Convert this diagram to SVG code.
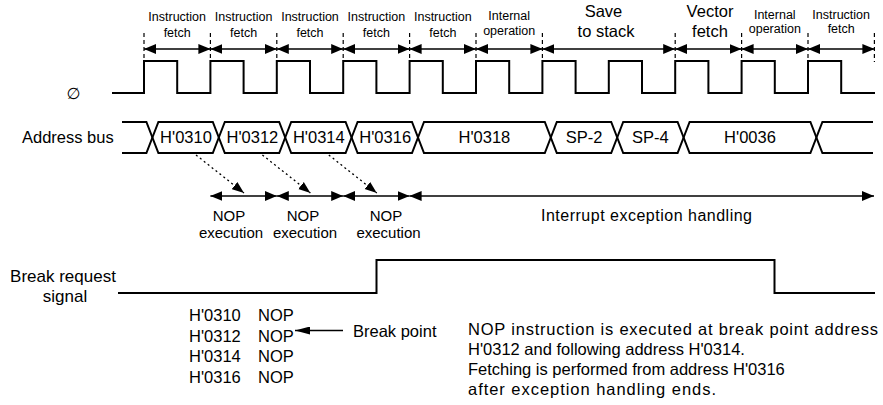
<svg xmlns="http://www.w3.org/2000/svg" width="883" height="405" viewBox="0 0 883 405">
<style>
text{font-family:"Liberation Sans",Arial,"DejaVu Sans",sans-serif;fill:#000}
.s{font-size:12.5px;text-anchor:middle}
.m{font-size:16.5px;text-anchor:middle}
.b{font-size:16.5px}
.n{font-size:15px;text-anchor:middle}
.sig{fill:none;stroke:#000;stroke-width:2}
.bus{fill:none;stroke:#000;stroke-width:2;stroke-linejoin:miter}
.tick{stroke:#000;stroke-width:1.2;stroke-dasharray:4 3}
.arr{stroke:#000;stroke-width:1.3;fill:none;marker-start:url(#ah);marker-end:url(#ah)}
.dot{stroke:#000;stroke-width:1.3;stroke-dasharray:2 3;fill:none;marker-end:url(#ah2)}
</style>
<defs>
<marker id="ah" markerUnits="userSpaceOnUse" markerWidth="12" markerHeight="10" refX="12" refY="5" orient="auto-start-reverse"><path d="M0,0 L12,5 L0,10 z" fill="#000"/></marker>
<marker id="ah2" markerUnits="userSpaceOnUse" markerWidth="12" markerHeight="10" refX="12" refY="5" orient="auto"><path d="M0,0.5 L12,5 L0,9.5 z" fill="#000"/></marker>
<marker id="ah3" markerUnits="userSpaceOnUse" markerWidth="15" markerHeight="8" refX="15" refY="4" orient="auto"><path d="M0,0 L15,4 L0,8 z" fill="#000"/></marker>
</defs>

<g id="phase-labels">
<text class="s" x="177.2" y="20.5">Instruction</text><text class="s" x="177.2" y="37">fetch</text>
<text class="s" x="243.6" y="20.5">Instruction</text><text class="s" x="243.6" y="37">fetch</text>
<text class="s" x="310" y="20.5">Instruction</text><text class="s" x="310" y="37">fetch</text>
<text class="s" x="376.4" y="20.5">Instruction</text><text class="s" x="376.4" y="37">fetch</text>
<text class="s" x="442.8" y="20.5">Instruction</text><text class="s" x="442.8" y="37">fetch</text>
<text class="s" x="509.2" y="19.5">Internal</text><text class="s" x="509.2" y="35">operation</text>
<text class="m" x="603.5" y="17">Save</text><text class="m" x="606" y="37">to stack</text>
<text class="m" x="710" y="17">Vector</text><text class="m" x="710" y="37">fetch</text>
<text class="s" x="774.8" y="19">Internal</text><text class="s" x="774.8" y="32.5">operation</text>
<text class="s" x="841.2" y="19">Instruction</text><text class="s" x="841.2" y="32.5">fetch</text>
</g>

<g id="phase-ticks">
<line class="tick" x1="144" y1="33" x2="144" y2="58"/>
<line class="tick" x1="210.4" y1="33" x2="210.4" y2="58"/>
<line class="tick" x1="276.8" y1="33" x2="276.8" y2="58"/>
<line class="tick" x1="343.2" y1="33" x2="343.2" y2="58"/>
<line class="tick" x1="409.6" y1="33" x2="409.6" y2="58"/>
<line class="tick" x1="476" y1="33" x2="476" y2="58"/>
<line class="tick" x1="542.4" y1="33" x2="542.4" y2="58"/>
<line class="tick" x1="675.2" y1="33" x2="675.2" y2="58"/>
<line class="tick" x1="741.6" y1="33" x2="741.6" y2="58"/>
<line class="tick" x1="808" y1="33" x2="808" y2="58"/>
<line class="tick" x1="874.4" y1="33" x2="874.4" y2="62"/>
</g>

<g id="connectors">
<line class="arr" x1="144" y1="49" x2="210.4" y2="49"/>
<line class="arr" x1="210.4" y1="49" x2="276.8" y2="49"/>
<line class="arr" x1="276.8" y1="49" x2="343.2" y2="49"/>
<line class="arr" x1="343.2" y1="49" x2="409.6" y2="49"/>
<line class="arr" x1="409.6" y1="49" x2="476" y2="49"/>
<line class="arr" x1="476" y1="49" x2="542.4" y2="49"/>
<line class="arr" x1="542.4" y1="49" x2="675.2" y2="49"/>
<line class="arr" x1="675.2" y1="49" x2="741.6" y2="49"/>
<line class="arr" x1="741.6" y1="49" x2="808" y2="49"/>
<line class="arr" x1="808" y1="49" x2="874.4" y2="49"/>

<line class="arr" x1="210.4" y1="196" x2="276.8" y2="196"/>
<line class="arr" x1="276.8" y1="196" x2="343.2" y2="196"/>
<line class="arr" x1="343.2" y1="196" x2="409.6" y2="196"/>
<line class="arr" x1="409.6" y1="196" x2="874" y2="196"/>

<line class="dot" x1="196" y1="155" x2="244" y2="193"/>
<line class="dot" x1="262.4" y1="155" x2="310.4" y2="193"/>
<line class="dot" x1="328.8" y1="155" x2="376.8" y2="193"/>

<line x1="343" y1="330.5" x2="295" y2="330.5" stroke="#000" stroke-width="1.3" marker-end="url(#ah3)"/>
</g>

<g id="clock">
<text x="73.5" y="99" style="font-size:16px;text-anchor:middle;font-family:'DejaVu Sans',sans-serif">∅</text>
<path class="sig" d="M112,93 H144 V61 H177.2 V93 H210.4 V61 H243.6 V93 H276.8 V61 H310 V93 H343.2 V61 H376.4 V93 H409.6 V61 H442.8 V93 H476 V61 H509.2 V93 H542.4 V61 H575.6 V93 H608.8 V61 H642 V93 H675.2 V61 H708.4 V93 H741.6 V61 H774.8 V93 H808 V61 H841.2 V93 H875"/>
</g>

<g id="address-bus">
<text class="b" x="22" y="143">Address bus</text>
<path class="bus" d="M122,122 H146.4 L152.4,137.5 L146.4,153 H122"/>
<path class="bus" d="M152.4,137.5 L158.4,122 H212.8 L218.8,137.5 L212.8,153 H158.4 Z"/>
<path class="bus" d="M218.8,137.5 L224.8,122 H279.2 L285.2,137.5 L279.2,153 H224.8 Z"/>
<path class="bus" d="M285.2,137.5 L291.2,122 H345.6 L351.6,137.5 L345.6,153 H291.2 Z"/>
<path class="bus" d="M351.6,137.5 L357.6,122 H412 L418,137.5 L412,153 H357.6 Z"/>
<path class="bus" d="M418,137.5 L424,122 H544.8 L550.8,137.5 L544.8,153 H424 Z"/>
<path class="bus" d="M550.8,137.5 L556.8,122 H611.2 L617.2,137.5 L611.2,153 H556.8 Z"/>
<path class="bus" d="M617.2,137.5 L623.2,122 H677.6 L683.6,137.5 L677.6,153 H623.2 Z"/>
<path class="bus" d="M683.6,137.5 L689.6,122 H810.4 L816.4,137.5 L810.4,153 H689.6 Z"/>
<path class="bus" d="M873,122 H822.4 L816.4,137.5 L822.4,153 H873"/>
<text class="m" x="186" y="143">H'0310</text>
<text class="m" x="252.4" y="143">H'0312</text>
<text class="m" x="318.8" y="143">H'0314</text>
<text class="m" x="385.2" y="143">H'0316</text>
<text class="m" x="484.4" y="143">H'0318</text>
<text class="m" x="584" y="143">SP-2</text>
<text class="m" x="650.4" y="143">SP-4</text>
<text class="m" x="750" y="143">H'0036</text>
</g>

<g id="nop-labels">
<text class="n" x="229" y="221">NOP</text><text class="n" x="231" y="238">execution</text>
<text class="n" x="303" y="221">NOP</text><text class="n" x="305" y="238">execution</text>
<text class="n" x="386" y="221">NOP</text><text class="n" x="388.5" y="238">execution</text>
<text x="541" y="221" style="font-size:16px" textLength="211" lengthAdjust="spacing">Interrupt exception handling</text>
</g>

<g id="break-signal">
<text class="m" x="63" y="282" style="font-size:17px">Break request</text>
<text class="m" x="65" y="302" style="font-size:17px">signal</text>
<path class="sig" d="M118,293 H376.5 V260 H774.5 V293 H875"/>
</g>

<g id="listing">
<text class="b" x="189" y="321">H'0310</text><text class="b" x="258" y="321">NOP</text>
<text class="b" x="189" y="341.5">H'0312</text><text class="b" x="258" y="341.5">NOP</text>
<text class="b" x="189" y="362">H'0314</text><text class="b" x="258" y="362">NOP</text>
<text class="b" x="189" y="383">H'0316</text><text class="b" x="258" y="383">NOP</text>
<text class="b" x="353" y="337">Break point</text>
</g>

<g id="note">
<text class="b" x="468" y="335" textLength="410" lengthAdjust="spacing">NOP instruction is executed at break point address</text>
<text class="b" x="468" y="355">H'0312 and following address H'0314.</text>
<text class="b" x="468" y="375">Fetching is performed from address H'0316</text>
<text class="b" x="468" y="395" textLength="248" lengthAdjust="spacing">after exception handling ends.</text>
</g>
</svg>
